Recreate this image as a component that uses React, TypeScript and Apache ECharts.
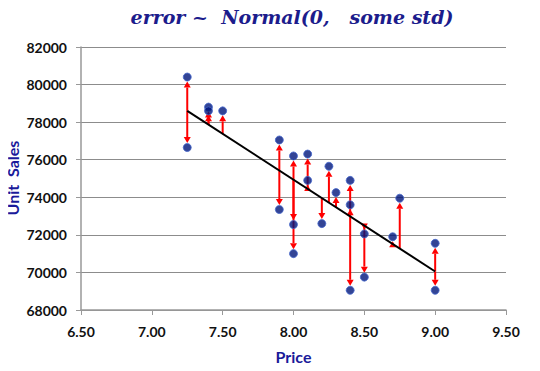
import React, { useEffect, useRef } from "react";
import * as echarts from "echarts";

const priceX = [7.25, 7.25, 7.4, 7.4, 7.5, 7.9, 7.9, 8.0, 8.0, 8.0, 8.1, 8.1, 8.2, 8.25, 8.3, 8.4, 8.4, 8.4, 8.5, 8.5, 8.7, 8.75, 9.0, 9.0];
const unitSales = [80400, 76650, 78800, 78600, 78600, 77050, 73350, 76200, 72550, 71000, 76300, 74900, 72600, 75650, 74250, 74900, 73600, 69050, 72050, 69750, 71900, 73950, 71550, 69050];
const fitX = [7.25, 9.0];
const fitY = [78600, 70050];
const xTicks = [6.5, 7.0, 7.5, 8.0, 8.5, 9.0, 9.5];
const yTicks = [68000, 70000, 72000, 74000, 76000, 78000, 80000, 82000];

export default function App() {
  const ref = useRef<HTMLDivElement>(null);
  useEffect(() => {
    if (!ref.current) return;
    const chart = echarts.init(ref.current, null, { renderer: "svg" });
    const slope = (fitY[1] - fitY[0]) / (fitX[1] - fitX[0]);
    const fitAt = (x: number) => fitY[0] + slope * (x - fitX[0]);
    const arrowData = priceX.map((x, i) => [x, fitAt(x), unitSales[i]]);
    const navy = "#1a1a9a";
    const labelFont = "Lato";
    chart.setOption({
      animation: false,
      backgroundColor: "#ffffff",
      title: {
        text: "error ~  Normal(0,   some std)",
        left: 287,
        top: 2,
        textAlign: "center",
        textStyle: {
          fontFamily: "DejaVu Serif",
          fontStyle: "italic",
          fontWeight: "bold",
          fontSize: 19,
          color: "#1c1c8c",
        },
      },
      graphic: [
        {
          type: "text",
          x: 12,
          y: 178,
          rotation: Math.PI / 2,
          style: {
            text: "Unit  Sales",
            fontFamily: labelFont,
            fontWeight: "bold",
            fontSize: 16,
            fill: navy,
            align: "center",
            verticalAlign: "middle",
          },
        },
      ],
      grid: { left: 81, right: 34, top: 47, bottom: 61, containLabel: false, outerBoundsMode: "none" },
      xAxis: {
        type: "value",
        min: xTicks[0],
        max: xTicks[xTicks.length - 1],
        interval: 0.5,
        name: "Price",
        nameLocation: "middle",
        nameGap: 38,
        nameTextStyle: { fontFamily: labelFont, fontWeight: "bold", fontSize: 16, color: navy },
        axisLine: { show: true, lineStyle: { color: "#999", width: 1.5 } },
        axisTick: { show: true, length: 5, lineStyle: { color: "#999" } },
        axisLabel: {
          margin: 14,
          fontFamily: labelFont,
          fontWeight: "bold",
          fontSize: 14,
          color: "#111",
          formatter: (v: number) => v.toFixed(2),
        },
        splitLine: { show: false },
      },
      yAxis: {
        type: "value",
        min: yTicks[0],
        max: yTicks[yTicks.length - 1],
        interval: 2000,
        axisLine: { show: true, lineStyle: { color: "#999", width: 1.5 } },
        axisTick: { show: true, length: 5, lineStyle: { color: "#999" } },
        axisLabel: {
          margin: 14,
          fontFamily: labelFont,
          fontWeight: "bold",
          fontSize: 14,
          color: "#111",
          formatter: (v: number) => String(v),
        },
        splitLine: { show: true, lineStyle: { color: "#8c8c8c", width: 1.2 } },
      },
      series: [
        {
          type: "line",
          data: fitX.map((x, i) => [x, fitY[i]]),
          symbol: "none",
          lineStyle: { color: "#000", width: 2 },
          z: 4,
        },
        {
          type: "custom",
          data: arrowData,
          z: 3,
          silent: true,
          renderItem: (params: any, api: any) => {
            const x = api.value(0);
            const p0 = api.coord([x, api.value(1)]);
            const p1 = api.coord([x, api.value(2)]);
            const dir = p1[1] >= p0[1] ? 1 : -1;
            const tip = p1[1] - dir * 4.5;
            const head = 6;
            const base = tip - dir * head;
            const children: any[] = [];
            if ((base - p0[1]) * dir > 0) {
              children.push({
                type: "line",
                shape: { x1: p0[0], y1: p0[1], x2: p0[0], y2: base },
                style: { stroke: "#ff0000", lineWidth: 2 },
              });
            }
            children.push({
              type: "polygon",
              shape: { points: [[p0[0], tip], [p0[0] - 3.5, base], [p0[0] + 3.5, base]] },
              style: { fill: "#ff0000" },
            });
            return { type: "group", children };
          },
        },
        {
          type: "scatter",
          data: priceX.map((x, i) => [x, unitSales[i]]),
          symbol: "circle",
          symbolSize: 8,
          itemStyle: { color: "#00157a", borderColor: "#4466cc", borderWidth: 1 },
          z: 5,
        },
      ],
    });
    return () => chart.dispose();
  }, []);
  return <div ref={ref} style={{ width: 540, height: 371, marginLeft: -8, marginTop: -8 }} />;
}
